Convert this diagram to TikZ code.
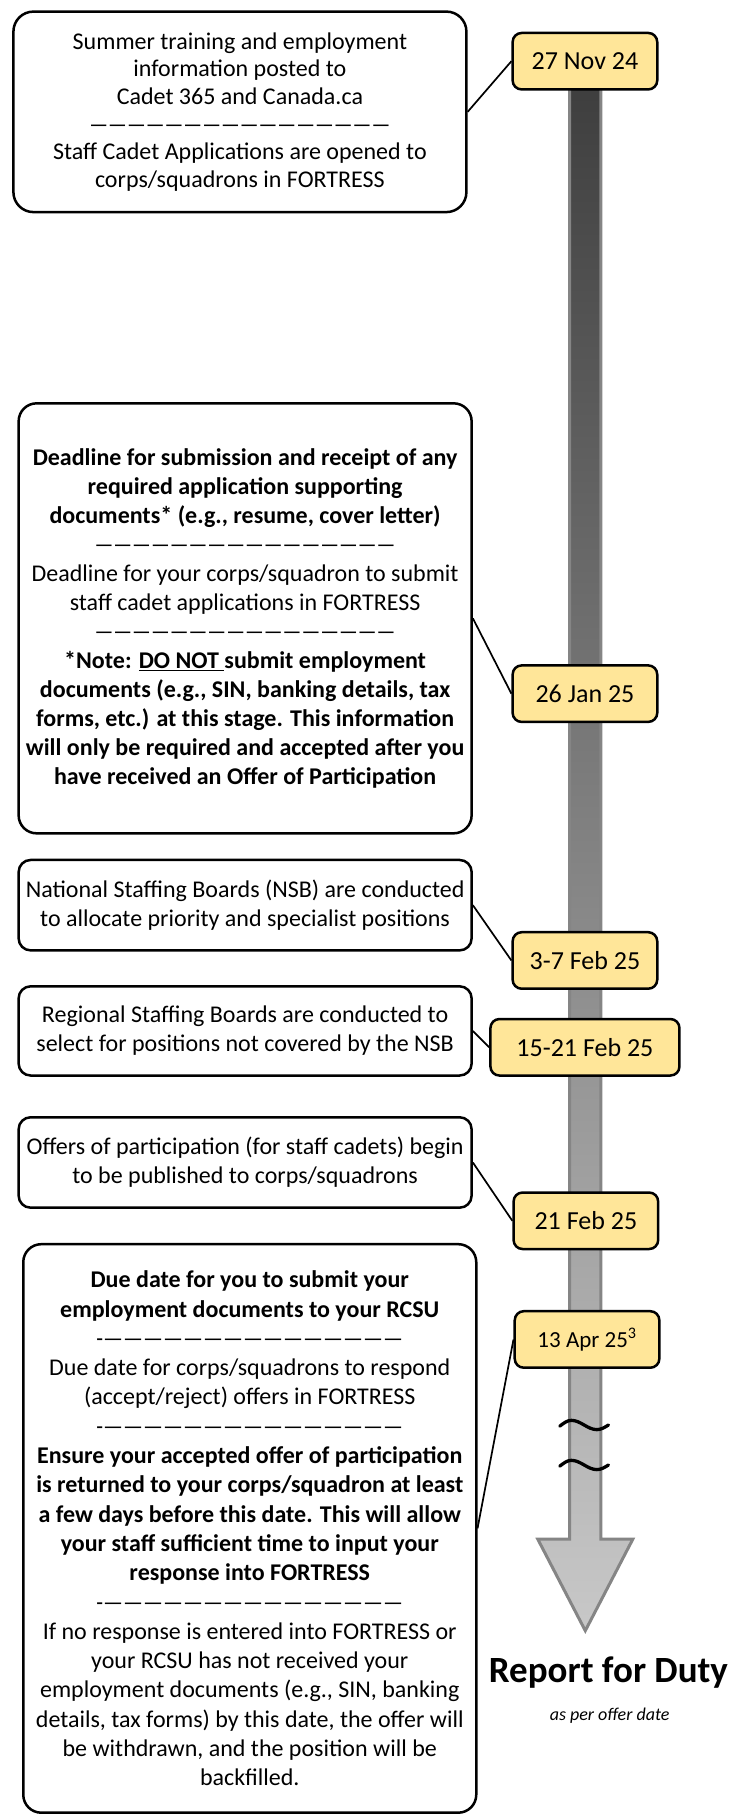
\documentclass[tikz,border=0pt]{standalone}
\usepackage{fontspec}
\setmainfont{Carlito}
\usetikzlibrary{calc}
\definecolor{datefill}{HTML}{FFE699}
\definecolor{bartop}{HTML}{3E3E3E}
\definecolor{barbot}{HTML}{C8C8C8}
\definecolor{baredge}{HTML}{858585}
\newcommand\dashline{\resizebox{301pt}{\height}{————————————————}}
\newcommand\dashlineb{\resizebox{307pt}{\height}{-———————————————}}
\tikzset{
 infobox/.style={draw=black, line width=2.5pt, rounded corners=18pt, fill=white, align=center, inner sep=0pt, minimum width=453pt, font=\fontsize{24}{29}\selectfont},
 smallbox/.style={infobox, rounded corners=12pt},
 datebox/.style={draw=black, line width=2.5pt, rounded corners=9pt, fill=datefill, inner sep=0pt, minimum width=144.6pt, minimum height=56.5pt, font=\fontsize{26}{30}\selectfont},
 link/.style={draw=black, line width=1.7pt},
 squig/.style={draw=black, line width=3.3pt, line cap=round},
}
\begin{document}
\begin{tikzpicture}[x=1.159pt,y=-1.159pt]
\useasboundingbox (0,0) rectangle (641.07,1568.6);
% timeline bar with arrow head
\shade[top color=bartop, bottom color=barbot, draw=baredge, line width=3pt, line join=miter]
  (491.5,72) -- (491.5,1328) -- (464,1328) -- (505,1407) -- (546,1328) -- (518.5,1328) -- (518.5,72) -- cycle;
% break marks
\draw[squig] (483,1230.5) sin (493,1225.5) cos (504,1229.5) sin (515,1233.5) cos (525,1229.5);
\draw[squig] (483,1265) sin (493,1260) cos (504,1264) sin (515,1268) cos (525,1264);

% boxes
\node[infobox, minimum height=200.5pt, font=\fontsize{24}{27.6}\selectfont, rounded corners=20pt] (b1) at (207,96.5) {Summer training and employment\\ information posted to\\ Cadet 365 and Canada.ca\\ \dashline\\ Staff Cadet Applications are opened to\\ corps/squadrons in FORTRESS};
\node[infobox, minimum height=430pt] (b2) at (211.5,533.5) {\bfseries Deadline for submission and receipt of any\\ \bfseries required application supporting\\ \bfseries documents* (e.g., resume, cover letter)\\ \mdseries\dashline\\ Deadline for your corps/squadron to submit\\ staff cadet applications in FORTRESS\\ \dashline\\ \bfseries *Note: \underline{DO NOT\ }submit employment\\ \bfseries documents (e.g., SIN, banking details, tax\\ \bfseries forms, etc.) at this stage. This information\\ \bfseries will only be required and accepted after you\\ \bfseries have received an Offer of Participation};
\node[smallbox, minimum height=90.4pt] (b3) at (211.5,781) {National Staffing Boards (NSB) are conducted\\ to allocate priority and specialist positions};
\node[smallbox, minimum height=89.2pt] (b4) at (211.5,889.5) {Regional Staffing Boards are conducted to\\ select for positions not covered by the NSB};
\node[smallbox, minimum height=90.4pt] (b5) at (211.5,1003) {Offers of participation (for staff cadets) begin\\ to be published to corps/squadrons};
\node[infobox, minimum height=568.5pt, font=\fontsize{24}{29.3}\selectfont] (b6) at (215.5,1318.75) {\bfseries Due date for you to submit your\\ \bfseries employment documents to your RCSU\\ \mdseries\dashlineb\\ Due date for corps/squadrons to respond\\ (accept/reject) offers in FORTRESS\\ \dashlineb\\ \bfseries Ensure your accepted offer of participation\\ \bfseries is returned to your corps/squadron at least\\ \bfseries a few days before this date. This will allow\\ \bfseries your staff sufficient time to input your\\ \bfseries response into FORTRESS\\ \mdseries\dashlineb\\ If no response is entered into FORTRESS or\\ your RCSU has not received your\\ employment documents (e.g., SIN, banking\\ details, tax forms) by this date, the offer will\\ be withdrawn, and the position will be\\ backfilled.};

% dates
\node[datebox] (d1) at (504.7,52.8) {27 Nov 24};
\node[datebox] (d2) at (504.7,598.5) {26 Jan 25};
\node[datebox] (d3) at (504.7,828.7) {3-7 Feb 25};
\node[datebox, minimum width=189pt] (d4) at (504.7,903.6) {15-21 Feb 25};
\node[datebox] (d5) at (505.5,1053.3) {21 Feb 25};
\node[datebox, font=\fontsize{23}{27}\selectfont] (d6) at (506.5,1155.7) {13 Apr 25\textsuperscript{3}};

% connectors
\draw[link] (b1.east) -- (d1.west);
\draw[link] (b2.east) -- (d2.west);
\draw[link] (b3.east) -- (d3.west);
\draw[link] (b4.east) -- (d4.west);
\draw[link] (b5.east) -- (d5.west);
\draw[link] (b6.east) -- (d6.west);

% end label
\node[font=\bfseries\fontsize{37}{40}\selectfont, inner sep=0pt] (rfd) at (525,1443) {Report for Duty};
\node[font=\itshape\fontsize{18}{22}\selectfont, inner sep=0pt] (apo) at (526,1480) {as per offer date};
\end{tikzpicture}
\end{document}
